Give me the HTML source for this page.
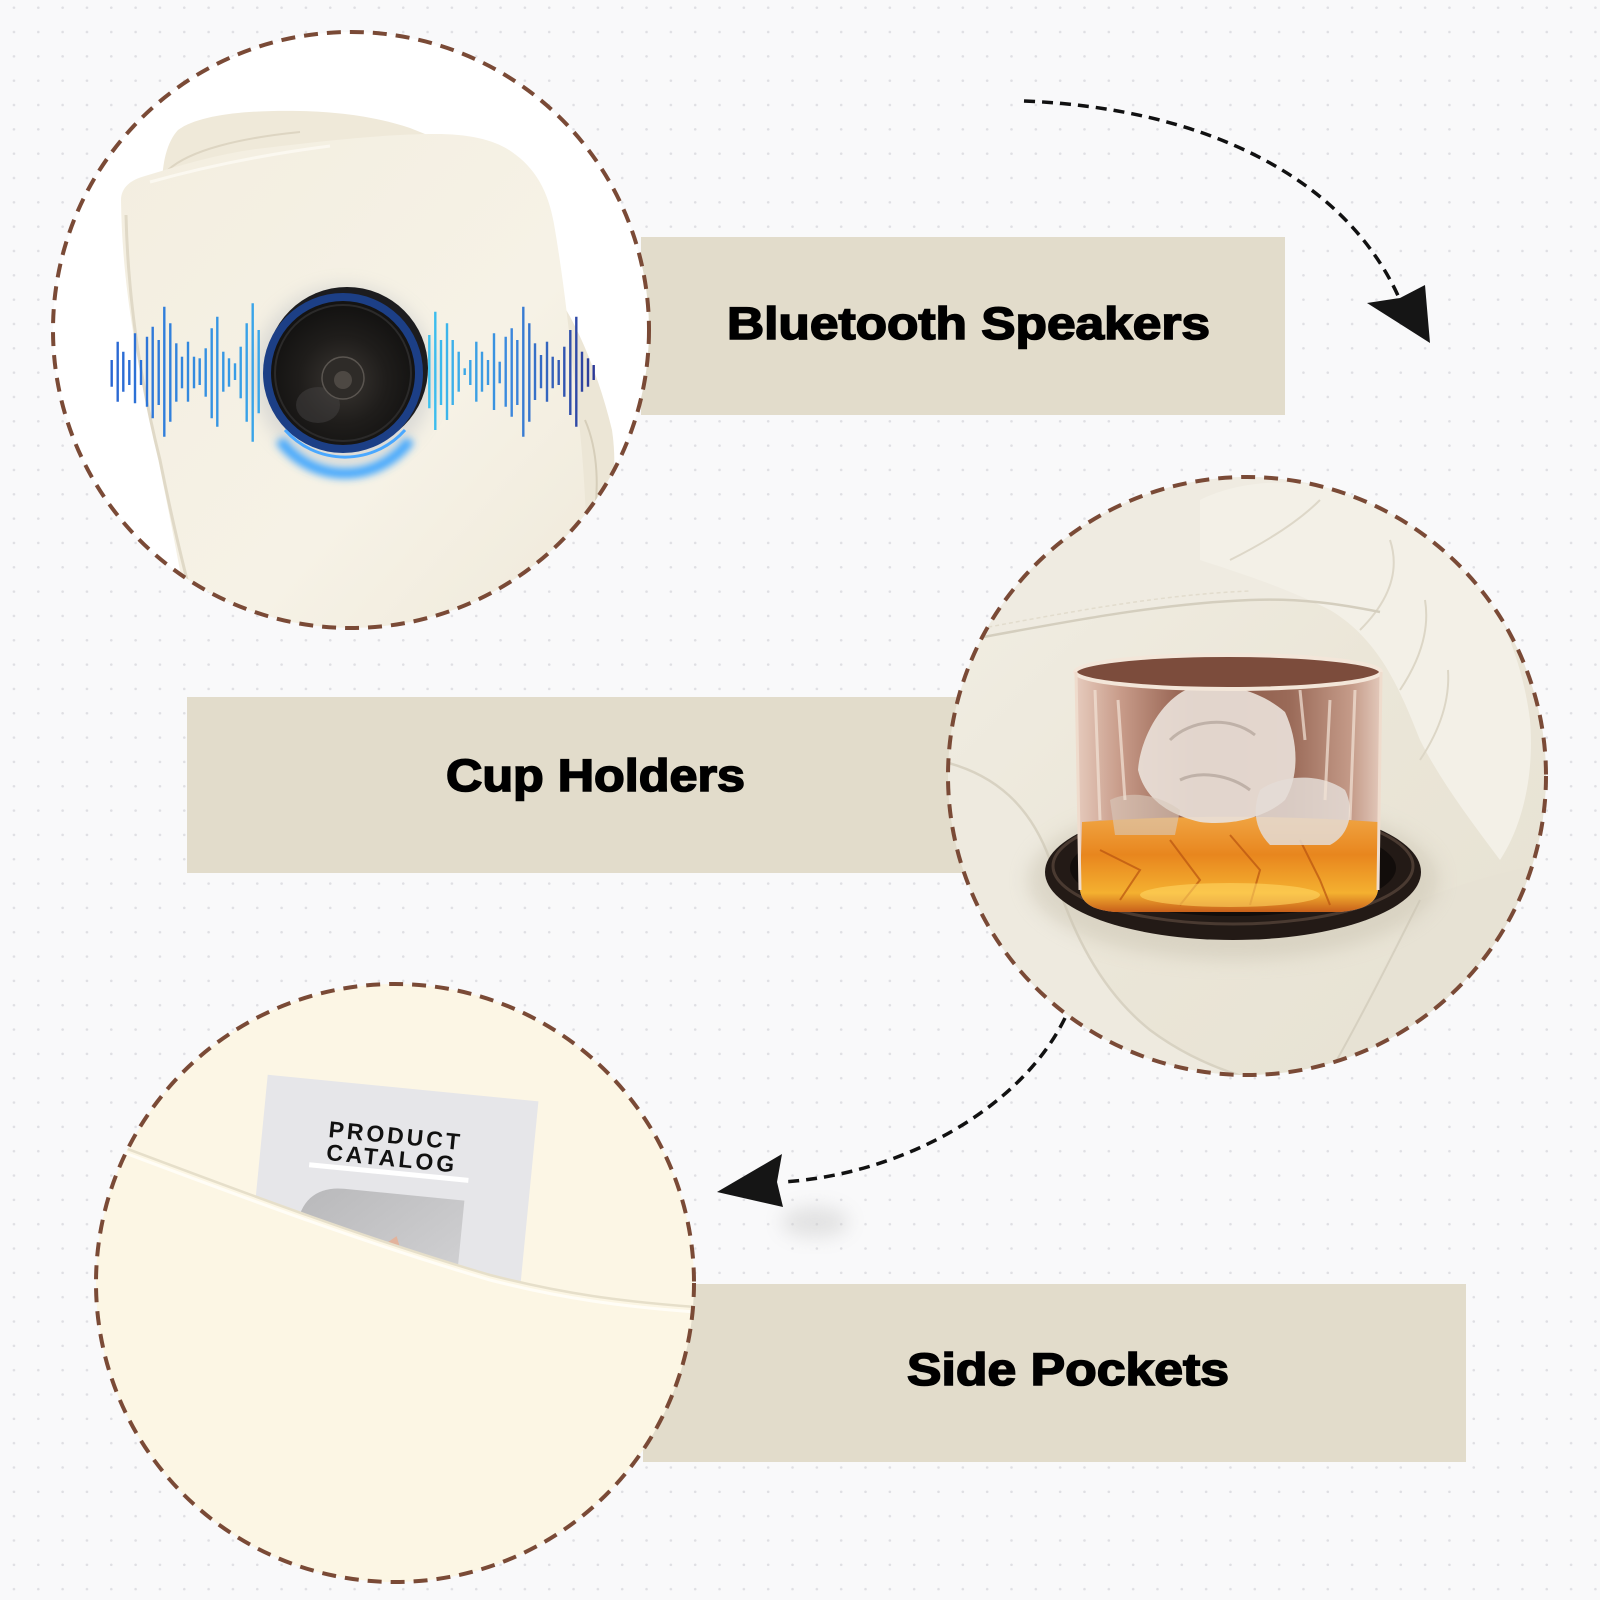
<!DOCTYPE html>
<html>
<head>
<meta charset="utf-8">
<style>
  html,body{margin:0;padding:0;background:#f9f9fa;}
  svg{display:block;}
  .lbl{font-family:"Liberation Sans",Arial,sans-serif;font-weight:bold;font-size:45px;fill:#000;stroke:#000;stroke-width:1.6px;}
  .cat{font-family:"Liberation Sans",Arial,sans-serif;font-weight:bold;font-size:23px;fill:#111;letter-spacing:3px;}
</style>
</head>
<body>
<svg width="1600" height="1600" viewBox="0 0 1600 1600" xmlns="http://www.w3.org/2000/svg">
  <defs>
    <pattern id="dots" x="1.8" y="-4.5" width="24.33" height="24.33" patternUnits="userSpaceOnUse">
      <circle cx="12.165" cy="12.165" r="1.3" fill="#dfdfe3"/>
    </pattern>
    <clipPath id="c1"><circle cx="351" cy="330" r="298"/></clipPath>
    <clipPath id="c2"><circle cx="1247" cy="776" r="299"/></clipPath>
    <clipPath id="c3"><circle cx="395" cy="1283" r="299"/></clipPath>
    <linearGradient id="wl" x1="110" y1="0" x2="262" y2="0" gradientUnits="userSpaceOnUse">
      <stop offset="0" stop-color="#2a66d2"/><stop offset="1" stop-color="#3aa8ea"/>
    </linearGradient>
    <linearGradient id="wr" x1="428" y1="0" x2="596" y2="0" gradientUnits="userSpaceOnUse">
      <stop offset="0" stop-color="#3cc2ef"/><stop offset="0.5" stop-color="#3a86dc"/><stop offset="1" stop-color="#2c3796"/>
    </linearGradient>
    <radialGradient id="mesh" cx="0.5" cy="0.55" r="0.5">
      <stop offset="0" stop-color="#3a3632"/><stop offset="0.6" stop-color="#1f1d1b"/><stop offset="1" stop-color="#141312"/>
    </radialGradient>
    <linearGradient id="chair" x1="0" y1="0" x2="1" y2="1">
      <stop offset="0" stop-color="#f3eee0"/><stop offset="0.6" stop-color="#f6f2e6"/><stop offset="1" stop-color="#efe9da"/>
    </linearGradient>
    <linearGradient id="glassUp" x1="0" y1="0" x2="1" y2="0">
      <stop offset="0" stop-color="#e6cbbd"/><stop offset="0.15" stop-color="#c79a88"/><stop offset="0.4" stop-color="#8a5645"/>
      <stop offset="0.7" stop-color="#9a6a58"/><stop offset="0.9" stop-color="#c49a88"/><stop offset="1" stop-color="#e3c9bb"/>
    </linearGradient>
    <linearGradient id="liq" x1="0" y1="0" x2="0" y2="1">
      <stop offset="0" stop-color="#f0a442"/><stop offset="0.4" stop-color="#e8861e"/><stop offset="0.8" stop-color="#f4b030"/><stop offset="1" stop-color="#c8601a"/>
    </linearGradient>
    <linearGradient id="leather" x1="0" y1="0" x2="1" y2="1">
      <stop offset="0" stop-color="#f2efe5"/><stop offset="0.5" stop-color="#ebe6d8"/><stop offset="1" stop-color="#e6e1d2"/>
    </linearGradient>
    <linearGradient id="photo" x1="0" y1="0" x2="1" y2="1">
      <stop offset="0" stop-color="#b8b8ba"/><stop offset="1" stop-color="#d8d8da"/>
    </linearGradient>
    <filter id="blur4" x="-50%" y="-50%" width="200%" height="200%"><feGaussianBlur stdDeviation="4"/></filter>
    <filter id="blur8" x="-50%" y="-50%" width="200%" height="200%"><feGaussianBlur stdDeviation="9"/></filter>
  </defs>

  <!-- background -->
  <rect width="1600" height="1600" fill="#f9f9fa"/>
  <rect width="1600" height="1600" fill="url(#dots)"/>

  <!-- label boxes -->
  <rect x="641" y="237" width="644" height="178" fill="#e2dccb"/>
  <rect x="187" y="697" width="820" height="176" fill="#e2dccb"/>
  <rect x="643" y="1284" width="823" height="178" fill="#e2dccb"/>

  <!-- ============ CIRCLE 1 : speaker ============ -->
  <g clip-path="url(#c1)">
    <rect x="40" y="20" width="630" height="630" fill="#ffffff"/>
    <path d="M163,205 C160,175 164,145 178,130 C200,114 250,110 300,111 C345,112 380,118 410,128 L440,140 L300,165 L170,200 Z" fill="#efe9d9"/>
    <path d="M168,170 C190,150 240,138 300,132" stroke="#ddd5c2" stroke-width="2" fill="none"/>
    <path d="M560,300 C580,330 600,380 612,430 C618,470 612,510 600,545 L585,640 L560,640 Z" fill="#ece6d6"/>
    <path d="M585,420 C598,450 600,490 592,530" stroke="#d6ceba" stroke-width="2" fill="none"/>
    <path d="M121,200 C121,188 130,180 145,176 C185,164 225,152 265,148 C330,140 390,134 435,134 C470,134 495,140 512,152 C535,168 548,190 554,224 C562,270 568,320 572,360 C578,410 584,460 586,520 C587,570 586,610 584,650 L195,650 C180,570 165,490 150,420 C135,350 122,280 121,200 Z" fill="url(#chair)"/>
    <path d="M126,215 C128,300 140,380 160,460 C172,520 182,560 192,600" stroke="#e0d9c7" stroke-width="3" fill="none"/>
    <path d="M150,182 C200,168 260,155 330,146" stroke="#fbf8f0" stroke-width="3" fill="none"/>
    <circle cx="344" cy="376" r="90" fill="#8a94a8" opacity="0.25" filter="url(#blur8)"/>
    <path d="M280,440 A80,80 0 0 0 410,440" stroke="#3aa4ff" stroke-width="10" fill="none" filter="url(#blur4)"/>
    <circle cx="347" cy="368" r="81" fill="#1c1c1f"/>
    <circle cx="343" cy="373" r="80" fill="#1c3f86"/>
    <circle cx="343" cy="373" r="72" fill="url(#mesh)"/>
    <circle cx="343" cy="373" r="68" fill="none" stroke="#2b2a2a" stroke-width="2"/>
    <ellipse cx="318" cy="405" rx="22" ry="18" fill="#4a4846" opacity="0.45"/>
    <circle cx="343" cy="378" r="21" fill="#2e2b28" stroke="#5a5550" stroke-width="1.5"/>
    <circle cx="343" cy="380" r="9" fill="#4d4843"/>
    <path d="M285,430 A80,80 0 0 0 405,430" stroke="#4aa8ff" stroke-width="3" fill="none"/>
    <g stroke="url(#wl)" stroke-width="2.4" stroke-linecap="butt">
      <line x1="111.7" y1="360" x2="111.7" y2="386.7"/>
      <line x1="117.7" y1="341.7" x2="117.7" y2="401.7"/>
      <line x1="123.3" y1="351.7" x2="123.3" y2="391.7"/>
      <line x1="129.3" y1="360" x2="129.3" y2="385"/>
      <line x1="135" y1="333.3" x2="135" y2="403.3"/>
      <line x1="141" y1="360" x2="141" y2="385"/>
      <line x1="147" y1="336.7" x2="147" y2="406.7"/>
      <line x1="152.7" y1="326.7" x2="152.7" y2="418.3"/>
      <line x1="158.7" y1="340" x2="158.7" y2="405"/>
      <line x1="164.3" y1="306.7" x2="164.3" y2="436.7"/>
      <line x1="170.3" y1="323.3" x2="170.3" y2="421.7"/>
      <line x1="176.3" y1="343.3" x2="176.3" y2="401.7"/>
      <line x1="182" y1="356.7" x2="182" y2="388.3"/>
      <line x1="188" y1="341.7" x2="188" y2="401.7"/>
      <line x1="194" y1="356.7" x2="194" y2="388.3"/>
      <line x1="199.7" y1="358.3" x2="199.7" y2="385"/>
      <line x1="205.7" y1="348.3" x2="205.7" y2="396.7"/>
      <line x1="211.7" y1="328.3" x2="211.7" y2="418.3"/>
      <line x1="217.3" y1="316.7" x2="217.3" y2="426.7"/>
      <line x1="223.3" y1="351.7" x2="223.3" y2="391.7"/>
      <line x1="229" y1="358.3" x2="229" y2="386.7"/>
      <line x1="235" y1="363.3" x2="235" y2="380"/>
      <line x1="240.7" y1="346.7" x2="240.7" y2="398.3"/>
      <line x1="246.7" y1="323.3" x2="246.7" y2="421.7"/>
      <line x1="252.7" y1="303.3" x2="252.7" y2="441.7"/>
      <line x1="258.7" y1="330" x2="258.7" y2="413.3"/>
    </g>
    <g stroke="url(#wr)" stroke-width="2.4" stroke-linecap="butt">
      <line x1="429.3" y1="335" x2="429.3" y2="408.3"/>
      <line x1="435.3" y1="311.7" x2="435.3" y2="430"/>
      <line x1="441" y1="340" x2="441" y2="405"/>
      <line x1="447" y1="323.3" x2="447" y2="420"/>
      <line x1="452.7" y1="340" x2="452.7" y2="405"/>
      <line x1="458.7" y1="351.7" x2="458.7" y2="391.7"/>
      <line x1="464.7" y1="368.3" x2="464.7" y2="375"/>
      <line x1="470.3" y1="360" x2="470.3" y2="385"/>
      <line x1="476.3" y1="341.7" x2="476.3" y2="401.7"/>
      <line x1="482" y1="351.7" x2="482" y2="391.7"/>
      <line x1="488" y1="360" x2="488" y2="385"/>
      <line x1="494" y1="333.3" x2="494" y2="410"/>
      <line x1="499.7" y1="361.7" x2="499.7" y2="383.3"/>
      <line x1="505.7" y1="336.7" x2="505.7" y2="406.7"/>
      <line x1="511.7" y1="328.3" x2="511.7" y2="416.7"/>
      <line x1="517.3" y1="340" x2="517.3" y2="405"/>
      <line x1="523.3" y1="306.7" x2="523.3" y2="436.7"/>
      <line x1="529.3" y1="323.3" x2="529.3" y2="421.7"/>
      <line x1="535" y1="343.3" x2="535" y2="400"/>
      <line x1="541" y1="355" x2="541" y2="388.3"/>
      <line x1="547" y1="341.7" x2="547" y2="401.7"/>
      <line x1="552.7" y1="356.7" x2="552.7" y2="388.3"/>
      <line x1="558.7" y1="360" x2="558.7" y2="385"/>
      <line x1="564.3" y1="346.7" x2="564.3" y2="396.7"/>
      <line x1="570.3" y1="330" x2="570.3" y2="415"/>
      <line x1="576.3" y1="316.7" x2="576.3" y2="426.7"/>
      <line x1="582" y1="351.7" x2="582" y2="391.7"/>
      <line x1="588" y1="358.3" x2="588" y2="386.7"/>
      <line x1="593.7" y1="365" x2="593.7" y2="380"/>
    </g>
  </g>
  <circle cx="351" cy="330" r="298" fill="none" stroke="#7a4a36" stroke-width="4" stroke-dasharray="14 9"/>

  <!-- ============ CIRCLE 2 : cup holder ============ -->
  <g clip-path="url(#c2)">
    <rect x="940" y="470" width="620" height="620" fill="url(#leather)"/>
    <path d="M940,470 L1560,470 L1560,640 C1450,620 1350,600 1250,600 C1150,602 1050,625 940,645 Z" fill="#efebe1"/>
    <path d="M1200,500 C1260,470 1350,480 1420,520 C1480,560 1520,640 1530,720 C1535,780 1520,830 1500,860 C1470,820 1440,780 1420,740 C1400,690 1380,640 1330,610 C1280,585 1230,570 1200,560 Z" fill="#f3f0e7"/>
    <path d="M1230,560 C1270,540 1300,520 1320,500" stroke="#ddd7c8" stroke-width="2" fill="none"/>
    <path d="M1360,630 C1390,600 1400,570 1390,540" stroke="#ddd7c8" stroke-width="2" fill="none"/>
    <path d="M1400,690 C1420,660 1430,630 1425,600" stroke="#dcd6c6" stroke-width="2" fill="none"/>
    <path d="M1420,760 C1440,730 1450,700 1448,670" stroke="#dcd6c6" stroke-width="2" fill="none"/>
    <path d="M940,645 C1050,625 1150,604 1250,600 C1300,598 1340,604 1380,612" stroke="#d4cebe" stroke-width="2.5" fill="none"/>
    <path d="M940,636 C1050,616 1150,595 1250,591" stroke="#e2dccd" stroke-width="1.5" stroke-dasharray="4 3" fill="none"/>
    <path d="M940,760 C990,770 1030,800 1050,860 C1070,930 1100,990 1150,1030 C1190,1060 1240,1080 1300,1090 L940,1090 Z" fill="#eeeadf"/>
    <path d="M945,762 C995,775 1030,805 1050,860 C1070,930 1100,990 1150,1030 C1190,1060 1240,1080 1300,1090" stroke="#d8d2c2" stroke-width="2.5" fill="none"/>
    <path d="M1420,900 C1470,880 1510,870 1560,860 L1560,1090 L1320,1090 C1360,1020 1390,950 1420,900 Z" fill="#e7e2d4"/>
    <path d="M1420,900 C1390,960 1360,1020 1320,1090" stroke="#d6d0c0" stroke-width="2" fill="none"/>
    <ellipse cx="1233" cy="880" rx="205" ry="80" fill="#c9c2b0" opacity="0.5" filter="url(#blur8)"/>
    <ellipse cx="1233" cy="872" rx="188" ry="68" fill="#231a16"/>
    <ellipse cx="1233" cy="866" rx="180" ry="58" fill="none" stroke="#4a3a31" stroke-width="3"/>
    <ellipse cx="1233" cy="868" rx="163" ry="48" fill="#120d0b"/>
    <path d="M1076,672 L1381,672 L1378,890 C1376,905 1360,910 1340,912 L1115,912 C1095,910 1082,905 1080,890 Z" fill="url(#glassUp)"/>
    <path d="M1082,822 C1180,815 1280,815 1378,822 L1378,890 C1376,905 1360,910 1340,912 L1115,912 C1095,910 1082,905 1080,890 Z" fill="url(#liq)"/>
    <path d="M1100,850 L1140,870 L1120,900 M1170,840 L1200,880 L1180,905 M1230,835 L1260,870 L1250,905 M1300,840 L1320,880 L1330,905" stroke="#b8520f" stroke-width="2" fill="none" opacity="0.7"/>
    <ellipse cx="1230" cy="895" rx="90" ry="12" fill="#ffd660" opacity="0.6"/>
    <path d="M1138,770 C1140,740 1160,700 1190,688 C1220,680 1260,690 1285,712 C1298,740 1300,775 1285,800 C1265,818 1230,826 1200,822 C1170,815 1145,800 1138,770 Z" fill="#e9e0d8" opacity="0.92"/>
    <path d="M1170,740 C1190,720 1230,715 1255,735 M1180,780 C1200,770 1230,775 1250,790" stroke="#a89a90" stroke-width="3" fill="none" opacity="0.6"/>
    <path d="M1260,790 C1280,775 1320,772 1345,790 C1355,810 1350,835 1330,845 L1270,845 C1255,830 1252,810 1260,790 Z" fill="#e4dcd6" opacity="0.85"/>
    <path d="M1110,800 C1130,790 1160,795 1180,810 L1175,835 L1115,835 Z" fill="#d8c9bd" opacity="0.6"/>
    <path d="M1095,690 L1100,820 M1118,700 L1125,800 M1330,700 L1325,800 M1355,690 L1350,820 M1300,690 L1305,740" stroke="#f2e2d6" stroke-width="3" fill="none" opacity="0.7"/>
    <ellipse cx="1228" cy="672" rx="153" ry="17" fill="#7c4c3c" stroke="#f3e6d9" stroke-width="4"/>
    <path d="M1076,672 L1080,890 M1381,672 L1378,890" stroke="#efdccd" stroke-width="3" fill="none"/>
  </g>
  <circle cx="1247" cy="776" r="299" fill="none" stroke="#7a4a36" stroke-width="4" stroke-dasharray="14 9"/>

  <!-- ============ CIRCLE 3 : side pocket ============ -->
  <g clip-path="url(#c3)">
    <rect x="90" y="980" width="620" height="620" fill="#fcf6e5"/>
    <g transform="rotate(5.6 400 1140)">
      <rect x="262" y="1088" width="272" height="250" fill="#e6e6e9"/>
      <text class="cat" x="328" y="1144">PRODUCT</text>
      <text class="cat" x="328" y="1167">CATALOG</text>
      <rect x="312" y="1171" width="160" height="5" fill="#ffffff"/>
      <path d="M306,1238 C306,1208 324,1194 349,1194 L470,1194 L470,1340 L306,1340 Z" fill="url(#photo)"/>
      <path d="M386,1253 L406,1236 L419,1268 Z" fill="#e2b39c"/>
    </g>
    <path d="M90,1140 L125,1148 C250,1195 370,1240 490,1275 C560,1293 620,1302 710,1308 L710,1600 L90,1600 Z" fill="#fcf6e4"/>
    <path d="M125,1148 C250,1195 370,1240 490,1275 C560,1293 620,1302 710,1308" stroke="#e6dfca" stroke-width="2.5" fill="none"/>
    <path d="M125,1153 C250,1200 370,1245 490,1280 C560,1298 620,1307 710,1313" stroke="#fffdf6" stroke-width="3" fill="none"/>
  </g>
  <circle cx="395" cy="1283" r="299" fill="none" stroke="#7a4a36" stroke-width="4" stroke-dasharray="14 9"/>

  <!-- ============ arrows ============ -->
  <path d="M1024,101 C1200,108 1345,175 1400,300" stroke="#111" stroke-width="3.5" fill="none" stroke-dasharray="11 7"/>
  <polygon points="1367,303 1400,298 1425,285 1430,343" fill="#151515"/>

  <ellipse cx="815" cy="1222" rx="34" ry="16" fill="#c8c8c8" opacity="0.45" filter="url(#blur8)"/>
  <path d="M1065,1018 C1020,1110 900,1175 782,1182" stroke="#111" stroke-width="3.5" fill="none" stroke-dasharray="11 7"/>
  <polygon points="717,1192 782,1154 777,1182 783,1207" fill="#151515"/>

  <!-- ============ labels ============ -->
  <text class="lbl" x="727" y="339" textLength="483" lengthAdjust="spacingAndGlyphs">Bluetooth Speakers</text>
  <text class="lbl" x="446" y="791" textLength="299" lengthAdjust="spacingAndGlyphs">Cup Holders</text>
  <text class="lbl" x="907" y="1385" textLength="322" lengthAdjust="spacingAndGlyphs">Side Pockets</text>
</svg>
</body>
</html>
